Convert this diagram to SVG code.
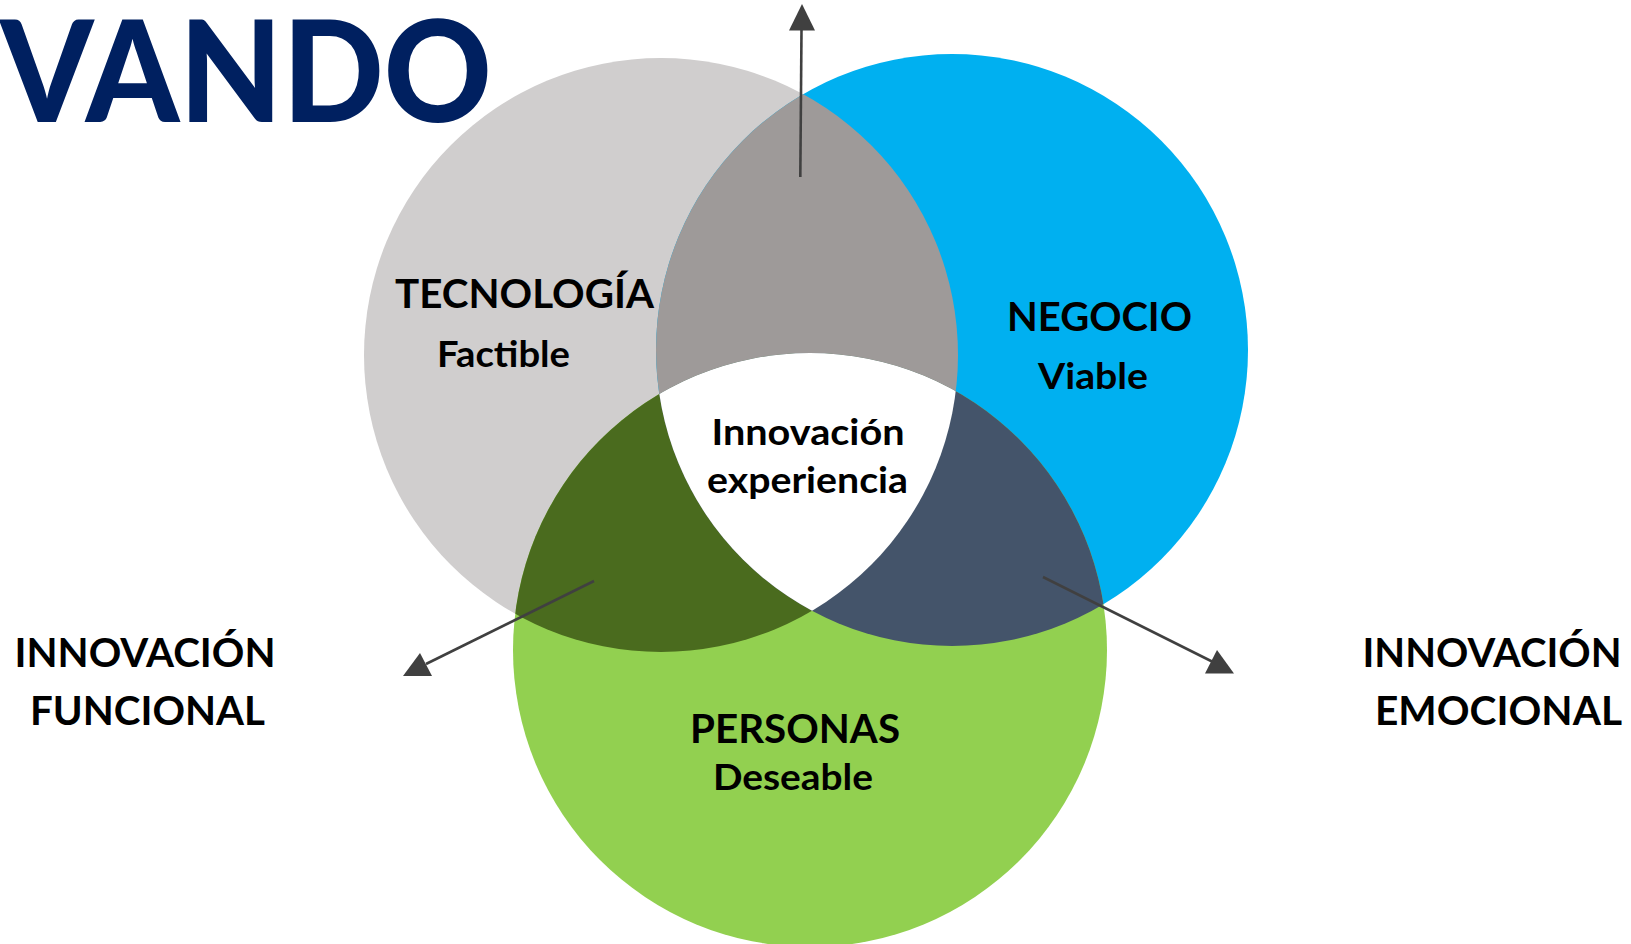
<svg xmlns="http://www.w3.org/2000/svg" width="1631" height="944" viewBox="0 0 1631 944">
<style>
  text { font-family: "Lato", "Noto Sans", "Liberation Sans", sans-serif; font-weight: 700; fill: #000; text-anchor: middle; }
  .title { fill: #002060; text-anchor: start; font-size: 141px; font-weight: 900; }
  .h { font-size: 40px; }
  .s { font-size: 36px; }
  .c { font-size: 36px; }
  .conn { stroke: #404040; stroke-width: 2.6; fill: none; }
  .head { fill: #404040; stroke: none; }
</style>
<defs>
  <circle id="gT" cx="661" cy="355" r="297"/>
  <circle id="gN" cx="952" cy="350" r="296"/>
  <circle id="gP" cx="810" cy="650" r="297"/>
  <clipPath id="clipT"><use href="#gT"/></clipPath>
  <clipPath id="clipN"><use href="#gN"/></clipPath>
</defs>
<rect width="1631" height="944" fill="#ffffff"/>

<text class="title" x="0" y="122" textLength="492" lengthAdjust="spacingAndGlyphs">VANDO</text>

<g id="node-tecnologia">
  <use href="#gT" fill="#D0CECE"/>
</g>
<g id="node-negocio">
  <use href="#gN" fill="#00B0F0"/>
</g>
<g id="node-personas">
  <use href="#gP" fill="#92D050"/>
</g>
<g id="overlap-tecnologia-negocio">
  <use href="#gN" fill="#9E9A99" clip-path="url(#clipT)"/>
</g>
<g id="overlap-tecnologia-personas">
  <use href="#gP" fill="#4A6B1E" clip-path="url(#clipT)"/>
</g>
<g id="overlap-negocio-personas">
  <use href="#gP" fill="#44546A" clip-path="url(#clipN)"/>
</g>
<g id="node-innovacion-experiencia">
  <g clip-path="url(#clipN)">
    <use href="#gP" fill="#FFFFFF" clip-path="url(#clipT)"/>
  </g>
  <text class="c" x="808" y="445" textLength="193" lengthAdjust="spacingAndGlyphs">Innovación</text>
  <text class="c" x="807.5" y="493" textLength="201" lengthAdjust="spacingAndGlyphs">experiencia</text>
</g>

<g id="labels-tecnologia">
  <text class="h" x="524.5" y="308" textLength="259" lengthAdjust="spacingAndGlyphs">TECNOLOGÍA</text>
  <text class="s" x="503.5" y="367" textLength="133" lengthAdjust="spacingAndGlyphs">Factible</text>
</g>
<g id="labels-negocio">
  <text class="h" x="1099.5" y="331" textLength="185" lengthAdjust="spacingAndGlyphs">NEGOCIO</text>
  <text class="s" x="1093" y="389" textLength="110" lengthAdjust="spacingAndGlyphs">Viable</text>
</g>
<g id="labels-personas">
  <text class="h" x="795" y="743" textLength="210" lengthAdjust="spacingAndGlyphs">PERSONAS</text>
  <text class="s" x="793" y="790" textLength="160" lengthAdjust="spacingAndGlyphs">Deseable</text>
</g>

<g id="connectors">
  <line class="conn" x1="800.3" y1="177" x2="801.5" y2="30"/>
  <polygon class="head" points="789,30.5 815,30.5 802,4"/>
  <line class="conn" x1="594" y1="581" x2="426" y2="664"/>
  <polygon class="head" points="403,676 432,676 420,653"/>
  <line class="conn" x1="1043" y1="577" x2="1213" y2="662"/>
  <polygon class="head" points="1205,673.5 1234,673.5 1217,650"/>
</g>

<g id="node-innovacion-funcional">
  <text class="h" x="145" y="667" textLength="261" lengthAdjust="spacingAndGlyphs">INNOVACIÓN</text>
  <text class="h" x="147.5" y="725" textLength="235" lengthAdjust="spacingAndGlyphs">FUNCIONAL</text>
</g>
<g id="node-innovacion-emocional">
  <text class="h" x="1492" y="667" textLength="259" lengthAdjust="spacingAndGlyphs">INNOVACIÓN</text>
  <text class="h" x="1498.5" y="725" textLength="247" lengthAdjust="spacingAndGlyphs">EMOCIONAL</text>
</g>
</svg>
